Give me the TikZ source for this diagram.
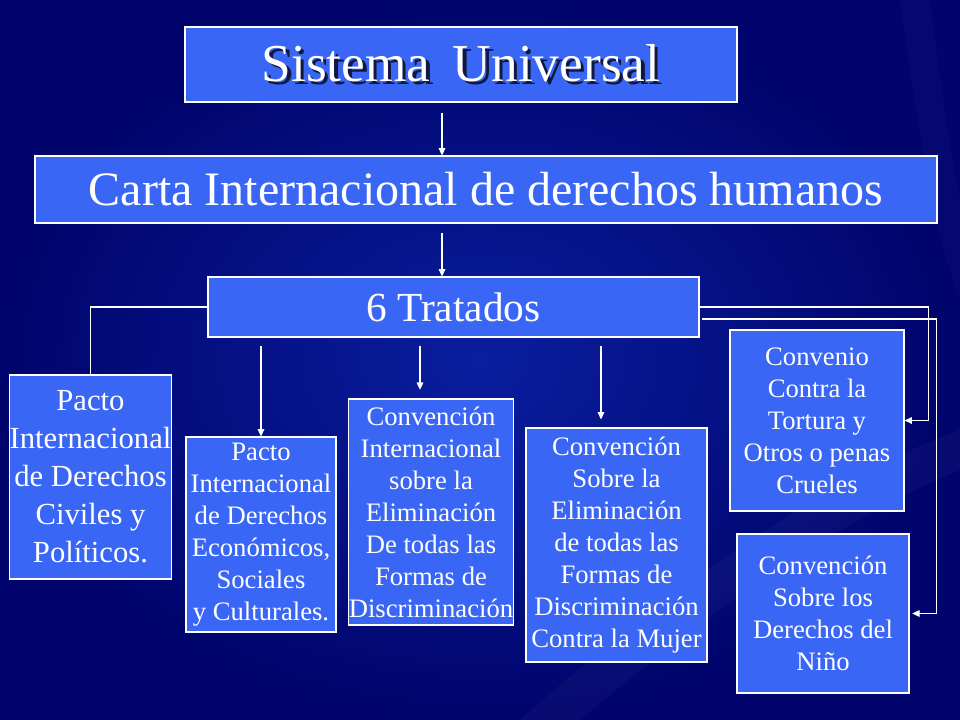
\documentclass[tikz,border=0pt]{standalone}
\usepackage{fontspec}
\setmainfont{Liberation Serif}
\usetikzlibrary{arrows.meta,calc}
\definecolor{bgdark}{HTML}{00046C}
\definecolor{bgmid}{HTML}{0A1E9E}
\definecolor{boxfill}{HTML}{3A66F6}
\definecolor{shadowc}{HTML}{101840}
\tikzset{
  boxn/.style={draw=white, line width=0.8pt, fill=boxfill, text=white, inner sep=0pt, align=center},
  small/.style={boxn, font=\fontsize{20}{24}\selectfont},
  conn/.style={draw=white, line width=0.8pt},
  arr/.style={conn, -{Triangle[length=5.5pt,width=5pt]}},
}
\newcommand{\titletxt}{Sistema\hspace{0.42em}Universal}
\begin{document}
\begin{tikzpicture}[x=0.75pt,y=-0.75pt]
% background
\path[inner color=bgmid, outer color=bgdark] (0,0) rectangle (960,720);
\useasboundingbox (0,0) rectangle (960,720);
% faint streaks
\fill[white, opacity=0.03] (520,720) .. controls (700,560) and (850,470) .. (960,430) -- (960,470) .. controls (860,510) and (720,600) .. (580,720) -- cycle;
\fill[white, opacity=0.02] (900,0) .. controls (920,150) and (940,250) .. (960,300) -- (960,200) .. controls (950,150) and (940,80) .. (930,0) -- cycle;

% nodes
\node[boxn, minimum width=414pt, minimum height=56.25pt, font=\fontsize{40}{48}\selectfont] (title) at (461,64.5)
  {\rlap{\kern2.5pt\raisebox{-2.5pt}{\color{shadowc}\titletxt}}\titletxt};

\node[boxn, minimum width=676.5pt, minimum height=50.25pt, font=\fontsize{36}{43}\selectfont] (carta) at (486,189.5) {Carta Internacional de derechos humanos};

\node[boxn, minimum width=368.25pt, minimum height=45pt, font=\fontsize{31}{37}\selectfont] (tratados) at (453.5,307) {6 Tratados};

\node[boxn, minimum width=119.25pt, minimum height=153pt, font=\fontsize{23}{28.5}\selectfont] (pcivil) at (90.5,477) {Pacto\\Internacional\\de Derechos\\Civiles y\\Políticos.};

\node[small, minimum width=112.5pt, minimum height=146.25pt] (pecon) at (261,534.5) {Pacto\\Internacional\\de Derechos\\Económicos,\\Sociales\\y Culturales.};

\node[small, minimum width=118.5pt, minimum height=169.5pt] (cdisc) at (431,512) {Convención\\Internacional\\sobre la\\Eliminación\\De todas las\\Formas de\\Discriminación};

\node[small, minimum width=135.75pt, minimum height=175.5pt] (cmujer) at (616.5,545) {Convención\\Sobre la\\Eliminación\\de todas las\\Formas de\\Discriminación\\Contra la Mujer};

\node[small, minimum width=130.5pt, minimum height=135.75pt] (ctortura) at (817,420.5) {Convenio\\Contra la\\Tortura y\\Otros o penas\\Crueles};

\node[small, minimum width=129pt, minimum height=119.25pt] (cnino) at (823,613.5) {Convención\\Sobre los\\Derechos del\\Niño};

% connector x positions
\coordinate (ax) at (442,0);
\coordinate (bx1) at (261,0);
\coordinate (bx2) at (420,0);
\coordinate (bx3) at (601,0);

\draw[arr, shorten <=7.5pt] (title.south -| ax) -- (carta.north -| ax);
\draw[arr, shorten <=7pt] (carta.south -| ax) -- (tratados.north -| ax);

\draw[conn] (tratados.west) -| (pcivil.north);
\draw[arr, shorten <=6pt] (tratados.south -| bx1) -- (pecon.north);
\draw[arr, shorten <=6pt, shorten >=6.5pt] (tratados.south -| bx2) -- (cdisc.north -| bx2);
\draw[arr, shorten <=6pt, shorten >=6pt] (tratados.south -| bx3) -- (cmujer.north -| bx3);

\draw[arr] (tratados.east) -| ([xshift=18pt]ctortura.east) -- (ctortura.east);
\draw[arr] ([xshift=2pt,yshift=-9pt]tratados.east) -| ([xshift=20.25pt]cnino.east) -- ([xshift=2pt]cnino.east);
\end{tikzpicture}
\end{document}
